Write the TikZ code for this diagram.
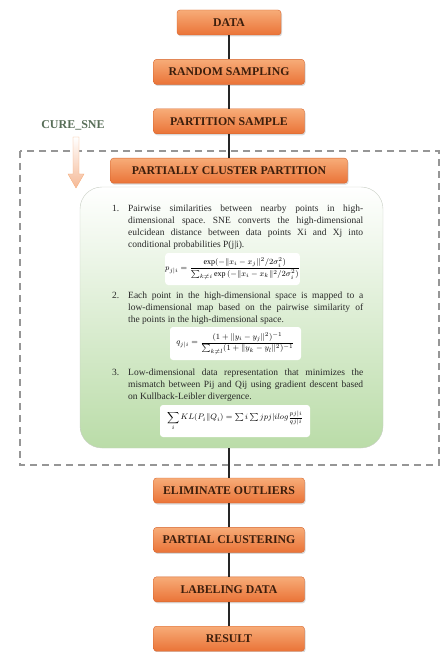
\documentclass[tikz,border=0pt]{standalone}
\usepackage{amsmath}
\usepackage{fontspec}
\setmainfont{Liberation Serif}
\usetikzlibrary{positioning, shadows}

\definecolor{boxtop}{RGB}{247,172,120}
\definecolor{boxbot}{RGB}{234,115,55}
\definecolor{boxline}{RGB}{214,100,45}
\definecolor{boxtext}{RGB}{60,30,12}
\definecolor{curegreen}{RGB}{88,110,88}
\definecolor{framegray}{RGB}{150,150,150}
\definecolor{snegreen}{RGB}{186,220,168}
\definecolor{snedge}{RGB}{200,206,196}
\definecolor{peach}{RGB}{245,185,150}
\definecolor{bodytext}{RGB}{40,40,40}

\begin{document}
\frenchspacing
\begin{tikzpicture}[x=1pt, y=-1pt,
    stepbox/.style={draw=boxline, rounded corners=3pt, top color=boxtop, bottom color=boxbot,
                    drop shadow={opacity=0.3, shadow xshift=1pt, shadow yshift=-1.5pt},
                    minimum width=151pt, minimum height=25pt, inner sep=0pt,
                    text=boxtext, font=\fontsize{11.8}{13}\selectfont\bfseries},
    link/.style={draw=black!85, line width=1.2pt},
    framebox/.style={draw=framegray, line width=1.3pt, dash pattern=on 7pt off 5pt},
    snebox/.style={draw=snedge, rounded corners=22pt, top color=white, bottom color=snegreen,
                   minimum width=303pt, minimum height=261pt},
    itemnum/.style={anchor=base west, inner sep=0pt, text=bodytext,
                    font=\fontsize{9.5}{12}\selectfont},
    itemtext/.style={itemnum, text width=235pt, align=justify},
    eqbox/.style={fill=white, rounded corners=3pt, inner sep=0pt,
                  font=\fontsize{8}{10}\selectfont}
  ]
    \useasboundingbox (0,0) rectangle (442,652);
    \draw[framebox] (20,151) rectangle (439,465);
    \node[snebox] (sne) at (231.5,317.5) {};

    \node[stepbox, minimum width=104pt] (data) at (229,22.5) {DATA};
    \node[stepbox, below=24pt of data] (rand) {RANDOM SAMPLING};
    \node[stepbox, below=24pt of rand] (part) {PARTITION SAMPLE};
    \node[stepbox, below=24pt of part, minimum width=237pt] (pcp) {PARTIALLY CLUSTER PARTITION};

    \node[stepbox] (elim) at (229,490.5) {ELIMINATE OUTLIERS};
    \node[stepbox, below=24pt of elim] (pclu) {PARTIAL CLUSTERING};
    \node[stepbox, below=24pt of pclu] (label) {LABELING DATA};
    \node[stepbox, below=24pt of label] (result) {RESULT};

    \node[text=curegreen, font=\fontsize{12}{13}\selectfont\bfseries] (cure) at (73,125) {CURE\_SNE};
    \shadedraw[top color=white, bottom color=peach, draw=peach!85!orange]
      (73,137) -- (79,137) -- (79,174) -- (84,174) -- (76,188) -- (68,174) -- (73,174) -- cycle;

    \node[itemnum] (n1) at (112,211.5) {1.};
    \node[itemtext] (t1) at (128,211.5) {Pairwise similarities between nearby points in high-\linebreak
      dimensional space. SNE converts the high-dimensional\linebreak
      eulcidean distance between data points Xi and Xj into\linebreak
      conditional probabilities P(j|i).};
    \node[eqbox, minimum width=133pt, minimum height=32pt] (eq1) at (232.5,269)
      {$p_{j|i} = \dfrac{\exp(-\| x_i - x_j \|^2/2\sigma_i^2)}{\sum_{k\neq i}\exp\,(-\| x_i - x_k \|^2/2\sigma_i^2)}$};

    \node[itemnum] (n2) at (112,298.5) {2.};
    \node[itemtext] (t2) at (128,298.5) {Each point in the high-dimensional space is mapped to a\linebreak
      low-dimensional map based on the pairwise similarity of\linebreak
      the points in the high-dimensional space.};
    \node[eqbox, minimum width=131pt, minimum height=33pt] (eq2) at (235.5,343.5)
      {$q_{j|i} = \dfrac{(1+\| y_i - y_j \|^2)^{-1}}{\sum_{k\neq l}(1+\| y_k - y_l \|^2)^{-1}}$};

    \node[itemnum] (n3) at (112,375.5) {3.};
    \node[itemtext] (t3) at (128,375.5) {Low-dimensional data representation that minimizes the\linebreak
      mismatch between Pij and Qij using gradient descent based\linebreak
      on Kullback-Leibler divergence.};
    \node[eqbox, minimum width=150pt, minimum height=32pt, font=\fontsize{8.5}{10}\selectfont] (eq3) at (235,421)
      {$\displaystyle\sum_i KL(P_i \| Q_i) = \textstyle\sum i \sum jpj|ilog\frac{pj|i}{qj|i}$};

    \draw[link] (data) -- (rand);
    \draw[link] (rand) -- (part);
    \draw[link] (part) -- (pcp);
    \draw[link] (elim.north |- sne.south) -- (elim);
    \draw[link] (elim) -- (pclu);
    \draw[link] (pclu) -- (label);
    \draw[link] (label) -- (result);
\end{tikzpicture}
\end{document}
